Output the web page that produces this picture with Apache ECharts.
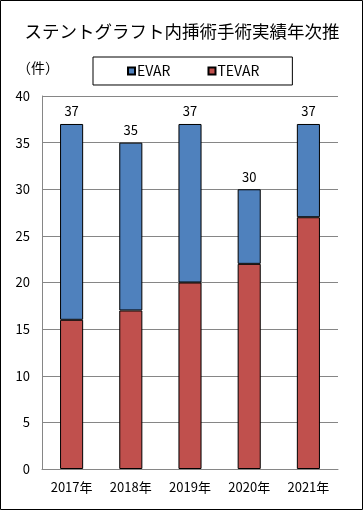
<!DOCTYPE html>
<html><head><meta charset="utf-8">
<script src="https://cdn.jsdelivr.net/npm/echarts@6/dist/echarts.min.js"></script>
<style>html,body{margin:0;padding:0;background:#fff}#c{width:364px;height:511px}</style>
</head><body><div id="c"></div>
<script>
const categories = ['2017年','2018年','2019年','2020年','2021年'];
const tevar = [16, 17, 20, 22, 27];
const evar = [21, 18, 17, 8, 10];
const yTicks = [0,5,10,15,20,25,30,35,40];
const totals = categories.map((_, i) => tevar[i] + evar[i]);
const FONT = '"Noto Sans CJK JP", "Noto Sans", sans-serif';
const chart = echarts.init(document.getElementById('c'));
chart.setOption({
  animation: false,
  textStyle: { fontFamily: FONT },
  title: { text: 'ステントグラフト内挿術手術実績年次推', left: 'center', top: 18,
    textStyle: { fontSize: 17.5, fontWeight: 'normal', color: '#000', fontFamily: FONT } },
  graphic: [
    { type: 'rect', shape: { x: 0.5, y: 0.5, width: 362, height: 509 }, style: { fill: 'none', stroke: '#000', lineWidth: 1 } },
    { type: 'text', left: 17, top: 61, style: { text: '（件）', fill: '#000', font: '14px ' + FONT } }
  ],
  legend: {
    data: ['EVAR', 'TEVAR'], left: 93, top: 57,
    padding: [7, 33, 7, 34], itemGap: 37,
    borderColor: '#000', borderWidth: 1,
    icon: 'rect', itemWidth: 7, itemHeight: 7,
    textStyle: { fontSize: 14, color: '#000', fontFamily: FONT, padding: [0,0,0,-3] }
  },
  grid: { left: 42, right: 26, top: 96, bottom: 42 },
  xAxis: { type: 'category', data: categories,
    axisLine: { lineStyle: { color: '#868686' } }, axisTick: { show: false },
    axisLabel: { fontSize: 13, color: '#000', margin: 12, fontFamily: FONT } },
  yAxis: { type: 'value', min: 0, max: 40, interval: 5,
    axisLine: { show: true, lineStyle: { color: '#868686' } }, axisTick: { show: false },
    splitLine: { lineStyle: { color: '#868686' } },
    axisLabel: { fontSize: 13, color: '#000', margin: 12, fontFamily: FONT,
      formatter: v => yTicks.includes(v) ? String(v) : '' } },
  series: [
    { name: 'TEVAR', type: 'bar', stack: 's', data: tevar, barWidth: '39%',
      itemStyle: { color: '#C0504D', borderColor: '#000', borderWidth: 1 } },
    { name: 'EVAR', type: 'bar', stack: 's', data: evar, barWidth: '39%',
      itemStyle: { color: '#4F81BD', borderColor: '#000', borderWidth: 1 },
      label: { show: true, position: 'top', distance: 6, fontSize: 13, color: '#000', fontFamily: FONT,
        formatter: p => String(totals[p.dataIndex]) } }
  ]
});
</script></body></html>
